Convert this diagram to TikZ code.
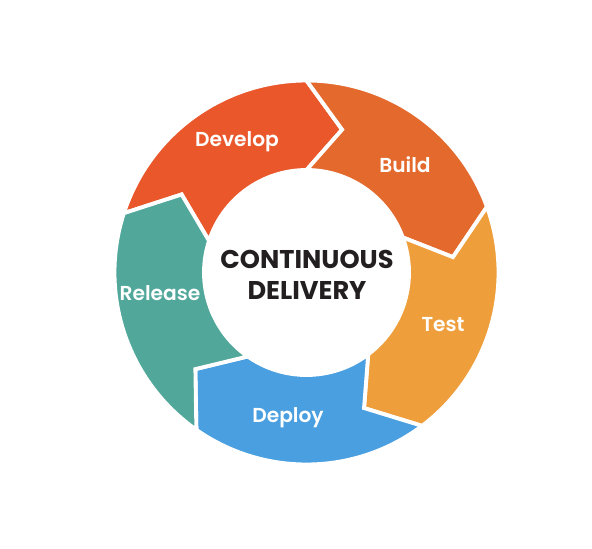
\documentclass[tikz,border=0pt]{standalone}
\usepackage{fontspec}
\setmainfont{Poppins}
\newfontfamily\semifont{Poppins SemiBold}
\usetikzlibrary{positioning, calc}

\definecolor{developc}{HTML}{E9572B}
\definecolor{buildc}{HTML}{E4692D}
\definecolor{testc}{HTML}{EE9E3B}
\definecolor{deployc}{HTML}{499FDF}
\definecolor{releasec}{HTML}{50A79A}
\definecolor{titlec}{HTML}{231F20}

\begin{document}
\begin{tikzpicture}[
    seg/.style={draw=white, line width=2.2pt, line join=miter},
    lbl/.style={text=white, font=\semifont\fontsize{11.5}{13}\selectfont},
    title/.style={text=titlec, align=center, font=\bfseries\fontsize{14.6}{18}\selectfont}
]
\useasboundingbox (0,0) rectangle (11.84,10.96);
\begin{scope}[shift={(6.13,5.51)}]
\filldraw[seg, fill=developc] (162:3.84) arc[start angle=162, end angle=90, radius=3.84] -- (76:2.945) -- (90:2.05) arc[start angle=90, end angle=162, radius=2.05] -- (148:2.945) -- cycle;
\filldraw[seg, fill=buildc] (90:3.84) arc[start angle=90, end angle=20, radius=3.84] -- (6:2.945) -- (20:2.05) arc[start angle=20, end angle=90, radius=2.05] -- (76:2.945) -- cycle;
\filldraw[seg, fill=testc] (20:3.84) arc[start angle=20, end angle=-53, radius=3.84] -- (-67:2.945) -- (-53:2.05) arc[start angle=-53, end angle=20, radius=2.05] -- (6:2.945) -- cycle;
\filldraw[seg, fill=deployc] (-53:3.84) arc[start angle=-53, end angle=-125, radius=3.84] -- (-139:2.945) -- (-125:2.05) arc[start angle=-125, end angle=-53, radius=2.05] -- (-67:2.945) -- cycle;
\filldraw[seg, fill=releasec] (235:3.84) arc[start angle=235, end angle=162, radius=3.84] -- (148:2.945) -- (162:2.05) arc[start angle=162, end angle=235, radius=2.05] -- (221:2.945) -- cycle;
\end{scope}
\node[title] (cd) at (6.14,5.46) {CONTINUOUS\\DELIVERY};
\node[lbl] (develop) at (4.74,8.12) {Develop};
\node[lbl] (build) at (8.10,7.66) {Build};
\node[lbl] (test) at (8.86,4.46) {Test};
\node[lbl] (deploy) at (5.76,2.60) {Deploy};
\node[lbl] (release) at (3.20,5.10) {Release};
\end{tikzpicture}
\end{document}
